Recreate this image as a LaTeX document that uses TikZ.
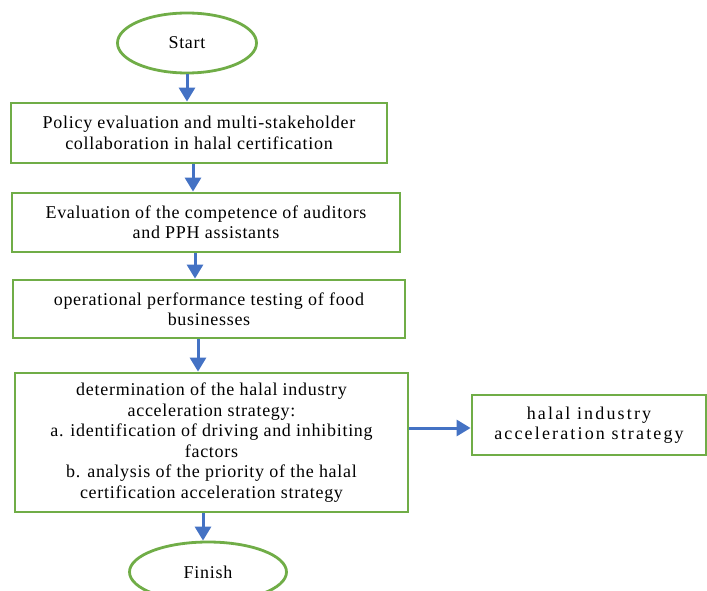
\documentclass[tikz,border=0pt]{standalone}
\usepackage{fontspec}
\setmainfont{Liberation Serif}[LetterSpace=4]
\usetikzlibrary{arrows.meta, positioning, shapes.geometric}
\definecolor{flowgreen}{RGB}{112,173,71}
\definecolor{flowblue}{RGB}{68,114,196}

\begin{document}
\begin{tikzpicture}[
    x=1pt, y=-1pt,
    box/.style={draw=flowgreen, line width=2.8pt, fill=white, align=center, inner sep=0pt, font=\fontsize{18}{20.5}\selectfont},
    terminal/.style={ellipse, draw=flowgreen, line width=2.8pt, fill=white, inner sep=0pt, minimum height=60pt, font=\fontsize{18}{20.5}\selectfont},
    arrow/.style={-{Triangle[length=14pt, width=16pt]}, line width=3pt, draw=flowblue}
]
    \useasboundingbox (0,0) rectangle (707,591);

    % Start terminal
    \node[terminal, minimum width=139pt] (start) at (187,43) {Start};

    % Policy evaluation box
    \node[box, minimum width=376pt, minimum height=60pt] (policy) at (199,133)
      {Policy evaluation and multi-stakeholder\\collaboration in halal certification};

    % Auditor competence box
    \node[box, minimum width=388pt, minimum height=59pt] (auditors) at (206,222.5)
      {Evaluation of the competence of auditors\\and PPH assistants};

    % Operational performance box
    \node[box, minimum width=392pt, minimum height=58pt] (testing) at (209,309)
      {operational performance testing of food\\businesses};

    % Strategy determination box
    \node[box, minimum width=393pt, minimum height=139pt] (strategy) at (211.5,442.5)
      {determination of the halal industry\\
       acceleration strategy:\\
       a. identification of driving and inhibiting\\
       factors\\
       b. analysis of the priority of the halal\\
       certification acceleration strategy};

    % Output box, right side (wider letter spacing)
    \node[box, minimum width=234pt, minimum height=60pt] (output) at (589,425)
      {\addfontfeatures{LetterSpace=12}halal industry\\
       \addfontfeatures{LetterSpace=12}acceleration strategy};

    % Finish terminal
    \node[terminal, minimum width=157pt] (finish) at (208,572) {Finish};

    % Arrows down the chain
    \draw[arrow] (start.south) -- (start.south |- policy.north);
    \draw[arrow] ([xshift=-6pt]policy.south) -- ([xshift=-6pt]policy.south |- auditors.north);
    \draw[arrow] ([xshift=-11pt]auditors.south) -- ([xshift=-11pt]auditors.south |- testing.north);
    \draw[arrow] ([xshift=-11pt]testing.south) -- ([xshift=-11pt]testing.south |- strategy.north);
    \draw[arrow] ([xshift=-8.5pt]strategy.south) -- ([xshift=-8.5pt]strategy.south |- finish.north);

    % Arrow to the output box
    \draw[arrow] ([yshift=-3pt]strategy.east |- output.west) -- ([yshift=-3pt]output.west);

\end{tikzpicture}
\end{document}
